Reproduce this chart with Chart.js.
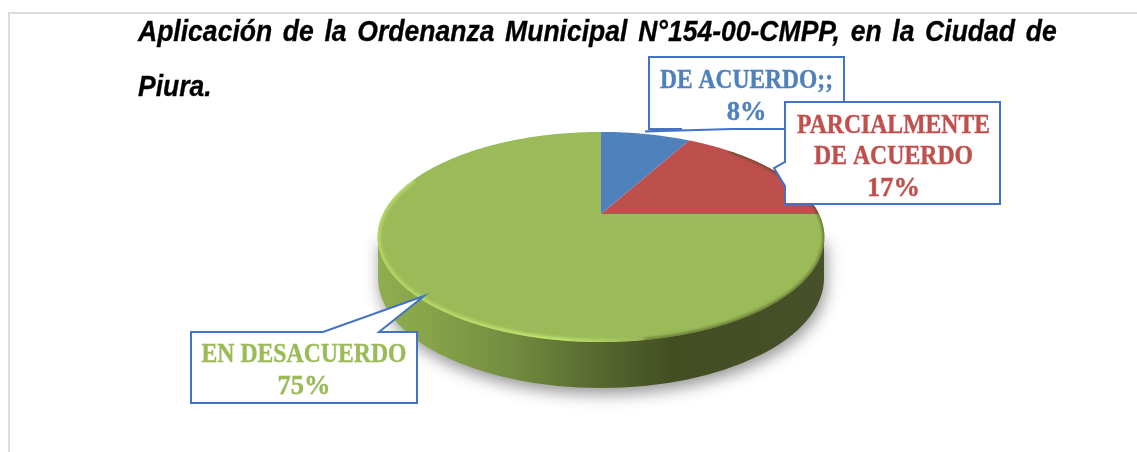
<!DOCTYPE html>
<html>
<head>
<meta charset="utf-8">
<script src="https://cdn.jsdelivr.net/npm/chart.js@4"></script>
<style>
html,body{margin:0;padding:0;background:#fff;width:1137px;height:452px;overflow:hidden}
#frame{position:absolute;left:8px;top:12px;width:1129px;height:440px;border-left:2px solid #dcdcdc;border-top:2px solid #dcdcdc;box-sizing:border-box}
#wrap{position:absolute;left:0;top:0;width:1137px;height:452px}
#title{position:absolute;left:138px;top:4px;width:1004px;font:italic bold 29px/54.5px "Liberation Sans",Arial,sans-serif;color:#000;transform:scaleX(0.915);transform-origin:left top;-webkit-text-stroke:0.3px #000}
#title div{white-space:nowrap}
#title .j{white-space:normal;text-align:justify;text-align-last:justify}
</style>
</head>
<body>
<div id="frame"></div>
<div id="wrap"><canvas id="c" width="1137" height="452"></canvas></div>
<div id="title"><div class="j">Aplicación de la Ordenanza Municipal N°154-00-CMPP, en la Ciudad de</div><div>Piura.</div></div>
<script>
const categories = ["DE ACUERDO;;", "PARCIALMENTE DE ACUERDO", "EN DESACUERDO"];
const values = [8, 17, 75];
const sliceColors = ["#4f81bd", "#bd4f4c", "#9bbb59"];
const textColors = ["#4f81bd", "#c0504d", "#9bbb59"];
const labelLines = [["DE ACUERDO;;"], ["PARCIALMENTE", "DE ACUERDO"], ["EN DESACUERDO"]];

// perspective of the tilted disc
const tilt = 0.459, persp = 0.219, depthY = 41;

function project(cx, cy, r, a) {
  const w = 1 - persp * Math.sin(a);
  return [cx + r * Math.cos(a) / w, cy + tilt * r * Math.sin(a) / w];
}
function arcPath(ctx, cx, cy, r, a0, a1, move) {
  const n = Math.max(2, Math.ceil(Math.abs(a1 - a0) / 0.01));
  for (let i = 0; i <= n; i++) {
    const p = project(cx, cy, r, a0 + (a1 - a0) * i / n);
    if (i === 0 && move) ctx.moveTo(p[0], p[1]); else ctx.lineTo(p[0], p[1]);
  }
}

const callouts = [
  {i:0, box:[649,57,844,129], tail:[[732,129],[645,131.5],[682,129]], side:'b', cx:746.5, base:[88,120], w:[173]},
  {i:2, box:[191,332,417,403], tail:[[323,332],[424,296],[379,332]], side:'t', cx:304, base:[362,394], w:[205]},
  {i:1, box:[785,102,1000,204], tail:[[785,162],[774,168],[785,186]], side:'l', cx:893.5, base:[133,164,196], w:[193,159]}
];

function drawCallout(ctx, c) {
  const [x0,y0,x1,y1] = c.box;
  ctx.beginPath();
  ctx.moveTo(x0,y0);
  if (c.side === 't') c.tail.forEach(p => ctx.lineTo(p[0],p[1]));
  ctx.lineTo(x1,y0); ctx.lineTo(x1,y1);
  if (c.side === 'b') c.tail.forEach(p => ctx.lineTo(p[0],p[1]));
  ctx.lineTo(x0,y1);
  if (c.side === 'l') [...c.tail].reverse().forEach(p => ctx.lineTo(p[0],p[1]));
  ctx.closePath();
  ctx.fillStyle = "#fff"; ctx.fill();
  ctx.strokeStyle = "#4472c4"; ctx.lineWidth = 2; ctx.lineJoin = "miter"; ctx.stroke();
  ctx.fillStyle = textColors[c.i];
  ctx.strokeStyle = textColors[c.i];
  ctx.lineWidth = 0.4;
  ctx.font = 'bold 26.5px "Liberation Serif", serif';
  ctx.textAlign = "center"; ctx.textBaseline = "alphabetic";
  const lines = labelLines[c.i];
  lines.forEach((t, k) => {
    ctx.fillText(t, c.cx, c.base[k], c.w[k]);
    ctx.strokeText(t, c.cx, c.base[k], c.w[k]);
  });
  const pct = values[c.i] + "%";
  ctx.fillText(pct, c.cx, c.base[lines.length]);
  ctx.strokeText(pct, c.cx, c.base[lines.length]);
}

const disc3d = {
  id: "disc3d",
  beforeDatasetsDraw(chart) {
    const ctx = chart.ctx, arcs = chart.getDatasetMeta(0).data;
    const {x: cx, y: cy, outerRadius: r} = arcs[0];
    // side wall and shadow
    const top = project(cx, cy, r, -Math.PI/2)[1], bot = project(cx, cy, r, Math.PI/2)[1];
    const midY = (top + bot) / 2, ry = (bot - top) / 2;
    const rx = 223;
    const g = ctx.createLinearGradient(cx - rx, 0, cx + rx, 0);
    g.addColorStop(0, "#8fae4f"); g.addColorStop(0.12, "#86a349");
    g.addColorStop(0.30, "#728c40"); g.addColorStop(0.50, "#56672f");
    g.addColorStop(0.66, "#424e22"); g.addColorStop(1, "#46502a");
    ctx.save();
    ctx.shadowColor = "rgba(0,0,0,0.42)"; ctx.shadowBlur = 16; ctx.shadowOffsetX = 2; ctx.shadowOffsetY = 6;
    ctx.fillStyle = g;
    ctx.beginPath();
    ctx.moveTo(cx - rx, midY);
    ctx.lineTo(cx + rx, midY);
    ctx.lineTo(cx + rx, midY + depthY);
    ctx.ellipse(cx, midY + depthY, rx, ry + 5, 0, 0, Math.PI);
    ctx.closePath();
    ctx.fill();
    ctx.restore();
    // slices, from the library's arc elements, seen in perspective
    arcs.forEach(a => {
      ctx.beginPath();
      ctx.moveTo(cx, cy);
      arcPath(ctx, cx, cy, r, a.startAngle, a.endAngle, false);
      ctx.closePath();
      ctx.fillStyle = a.options.backgroundColor;
      ctx.fill();
    });
    // bevel light and edge shade
    ctx.save();
    ctx.beginPath();
    arcPath(ctx, cx, cy, r, 0, Math.PI * 2, true);
    ctx.closePath();
    ctx.clip();
    ctx.filter = "blur(1.8px)";
    ctx.lineWidth = 6;
    const light = ctx.createLinearGradient(cx - rx, 0, cx + 40, 0);
    light.addColorStop(0, "rgba(185,215,105,0.9)");
    light.addColorStop(0.7, "rgba(195,230,110,0.95)");
    light.addColorStop(1, "rgba(190,225,110,0)");
    ctx.strokeStyle = light;
    ctx.beginPath();
    arcPath(ctx, cx, cy, r, Math.PI * 0.45, Math.PI * 1.12, true);
    ctx.stroke();
    ctx.strokeStyle = "rgba(60,70,30,0.7)";
    ctx.lineWidth = 3;
    ctx.beginPath();
    arcPath(ctx, cx, cy, r, -Math.PI * 0.26, Math.PI * 0.1, true);
    ctx.stroke();
    ctx.strokeStyle = "rgba(70,80,35,0.6)";
    ctx.lineWidth = 4;
    ctx.beginPath();
    arcPath(ctx, cx, cy, r, Math.PI * 0.1, Math.PI * 0.45, true);
    ctx.stroke();
    ctx.restore();
    return false;
  },
  afterDraw(chart) {
    callouts.forEach(c => drawCallout(chart.ctx, c));
  }
};

new Chart(document.getElementById("c"), {
  type: "pie",
  data: {
    labels: categories,
    datasets: [{ data: values, backgroundColor: sliceColors, borderWidth: 0, radius: 218 }]
  },
  options: {
    responsive: false,
    animation: false,
    layout: { padding: { left: 65, bottom: 24 } },
    plugins: { legend: { display: false }, tooltip: { enabled: false }, title: { display: false } }
  },
  plugins: [disc3d]
});
</script>
</body>
</html>
